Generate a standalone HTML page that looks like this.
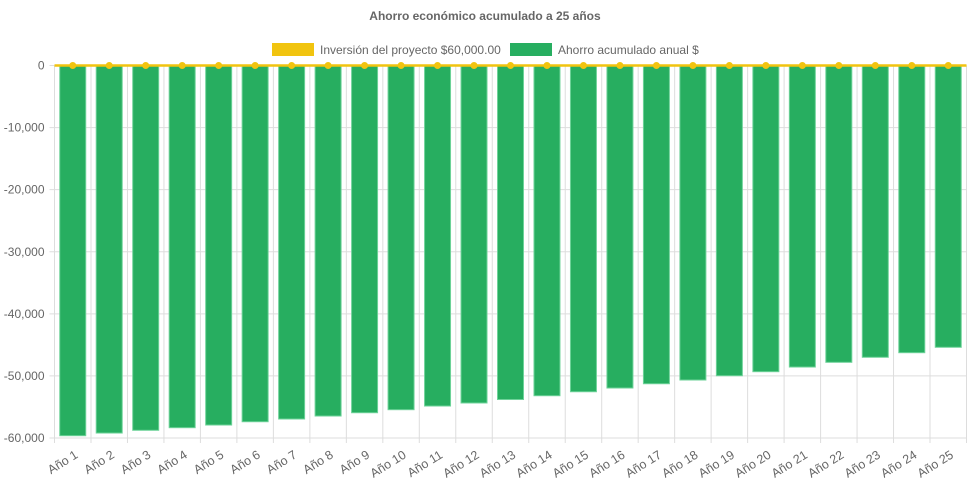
<!DOCTYPE html>
<html><head><meta charset="utf-8"><style>
body{margin:0;background:#fff;font-family:"Liberation Sans",sans-serif}
svg text{font-family:"Liberation Sans",sans-serif}
</style></head><body>
<svg id="c" width="971" height="485">
<text x="485" y="20" text-anchor="middle" font-size="12" font-weight="bold" fill="#666">Ahorro económico acumulado a 25 años</text>
<g>
<rect x="272" y="43" width="42" height="13" fill="#f1c40f"/>
<text x="320" y="54" font-size="12" fill="#666">Inversión del proyecto $60,000.00</text>
<rect x="510" y="43" width="42" height="13" fill="#27ae60"/>
<text x="558" y="54" font-size="12" fill="#666">Ahorro acumulado anual $</text>
</g>
</svg>
<script>
const categories=[];for(let i=1;i<=25;i++)categories.push('Año '+i);
const savings=[-59630,-59200,-58760,-58340,-57910,-57380,-56940,-56460,-55930,-55440,-54850,-54360,-53800,-53190,-52550,-51950,-51260,-50660,-49970,-49320,-48570,-47810,-47000,-46260,-45390];
const investment=[0,0,0,0,0,0,0,0,0,0,0,0,0,0,0,0,0,0,0,0,0,0,0,0,0];
const yTicks=[0,-10000,-20000,-30000,-40000,-50000,-60000];
const NS='http://www.w3.org/2000/svg',svg=document.getElementById('c');
const L=54.5,R=966.5,Y0=65.5,Y1=438;
const y=v=>Y0+(v/-60000)*(Y1-Y0);
const bw=(R-L)/categories.length;
const x=i=>L+bw*(i+0.5);
function mk(t,a,p){const e=document.createElementNS(NS,t);for(const k in a)e.setAttribute(k,a[k]);(p||svg).appendChild(e);return e;}
const grid=mk('g',{});


yTicks.forEach(v=>{
 mk('line',{x1:L-5,x2:R,y1:y(v),y2:y(v),stroke:'#ddd'},grid);
 const t=mk('text',{x:L-10,y:y(v)+4,'text-anchor':'end','font-size':12,fill:'#666'});
 t.textContent=v.toLocaleString('en-US');
 
 
});
for(let i=0;i<=categories.length;i++){
 const gx=L+bw*i;
 mk('line',{x1:gx,x2:gx,y1:Y0,y2:Y1+5,stroke:'#ddd'},grid);
}
categories.forEach((c,i)=>{
 const t=mk('text',{x:0,y:0,'text-anchor':'end','font-size':12.5,fill:'#666',transform:`translate(${x(i)+6},${Y1+19}) rotate(-32)`});
 t.textContent=c;
 
 
});
savings.forEach((v,i)=>{
 const b=mk('rect',{x:x(i)-13,y:y(0),width:26,height:y(v)-y(0),fill:'#27ae60',stroke:'#6fd39a','stroke-width':1});
 
 
});
const ln=mk('path',{d:'M'+L+','+y(0)+'L'+R+','+y(0),stroke:'#f1c40f','stroke-width':2.5,fill:'none'});


investment.forEach((v,i)=>{
 const p=mk('circle',{cx:x(i),cy:y(v),r:3.5,fill:'#f1c40f'});
 
 
});
</script>
</body></html>
